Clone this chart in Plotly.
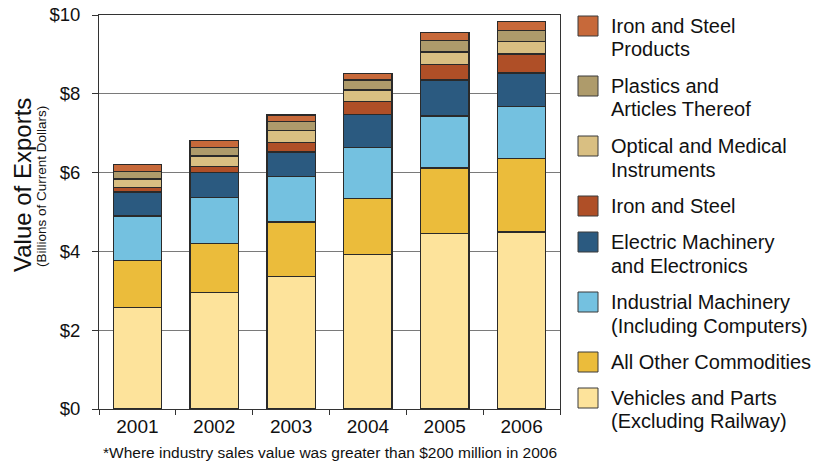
import plotly.graph_objects as go

years = ["2001", "2002", "2003", "2004", "2005", "2006"]
vehicles = [2.57, 2.96, 3.37, 3.93, 4.46, 4.49]
all_other = [1.20, 1.24, 1.38, 1.41, 1.66, 1.87]
industrial = [1.13, 1.17, 1.15, 1.29, 1.32, 1.31]
electric = [0.61, 0.64, 0.62, 0.85, 0.91, 0.86]
iron_steel = [0.12, 0.15, 0.24, 0.32, 0.39, 0.48]
optical = [0.21, 0.26, 0.30, 0.30, 0.32, 0.31]
plastics = [0.19, 0.22, 0.23, 0.25, 0.29, 0.29]
iron_products = [0.18, 0.17, 0.17, 0.17, 0.21, 0.23]

y_ticks = [0, 2, 4, 6, 8, 10]
y_tick_labels = ["$0", "$2", "$4", "$6", "$8", "$10"]

# bottom to top stacking order
series = [
    ("Vehicles and Parts<br>(Excluding Railway)", vehicles, "#FDE39B"),
    ("All Other Commodities", all_other, "#EBBC3B"),
    ("Industrial Machinery<br>(Including Computers)", industrial, "#74C1E0"),
    ("Electric Machinery<br>and Electronics", electric, "#2B5A80"),
    ("Iron and Steel", iron_steel, "#AF4F27"),
    ("Optical and Medical<br>Instruments", optical, "#D9BF82"),
    ("Plastics and<br>Articles Thereof", plastics, "#AE9B6B"),
    ("Iron and Steel<br>Products", iron_products, "#C7693A"),
]

FONT = "Liberation Sans, Arial, Helvetica, sans-serif"
W, H = 823, 466
L, R, T, B = 99, 560, 15, 409

fig = go.Figure()
for name, vals, col in series:
    fig.add_trace(go.Bar(
        x=years, y=vals, name=name.replace("<br>", " "),
        marker=dict(color=col, line=dict(color="#2a2a2a", width=1.3)),
        showlegend=False,
    ))


def px_x(px):
    return (px - L) / (R - L)


def px_y(py):
    return (B - py) / (B - T)


shapes = []
annotations = []
# custom legend (top to bottom = reverse of stacking)
top = 16
line_h = 24
for name, vals, col in reversed(series):
    lines = name.split("<br>")
    shapes.append(dict(
        type="rect", xref="paper", yref="paper",
        x0=px_x(578), x1=px_x(598), y0=px_y(top + 20), y1=px_y(top),
        fillcolor=col, line=dict(color="#3a3a3a", width=1),
    ))
    for i, ln in enumerate(lines):
        annotations.append(dict(
            xref="paper", yref="paper", x=px_x(609), y=px_y(top + 9.5 + i * line_h),
            xanchor="left", yanchor="middle", align="left", showarrow=False,
            text=ln, font=dict(family=FONT, size=20, color="#111"),
        ))
    top += 36 + line_h * (len(lines) - 1)

annotations.append(dict(
    xref="paper", yref="paper", x=px_x(23), y=px_y(185),
    xanchor="center", yanchor="middle", showarrow=False, textangle=-90,
    text="Value of Exports", font=dict(family=FONT, size=24, color="#111"),
))
annotations.append(dict(
    xref="paper", yref="paper", x=px_x(41), y=px_y(186),
    xanchor="center", yanchor="middle", showarrow=False, textangle=-90,
    text="(Billions of Current Dollars)", font=dict(family=FONT, size=13.5, color="#111"),
))
annotations.append(dict(
    xref="paper", yref="paper", x=px_x(330), y=px_y(452),
    xanchor="center", yanchor="middle", showarrow=False,
    text="*Where industry sales value was greater than $200 million in 2006",
    font=dict(family=FONT, size=15.5, color="#111"),
))

fig.update_layout(
    width=W, height=H,
    margin=dict(l=L, r=W - R, t=T, b=H - B, pad=0, autoexpand=False),
    paper_bgcolor="white", plot_bgcolor="white",
    barmode="stack", bargap=0.37,
    font=dict(family=FONT, size=18, color="#111"),
    shapes=shapes, annotations=annotations,
    xaxis=dict(
        type="category", showline=True, linecolor="#333", linewidth=1,
        mirror=True, ticks="outside", tickson="boundaries", ticklen=5,
        tickcolor="#333", showgrid=False, automargin=False,
        tickfont=dict(family=FONT, size=19, color="#111"),
    ),
    yaxis=dict(
        range=[0, 10], tickvals=y_ticks, ticktext=y_tick_labels,
        showline=True, linecolor="#333", linewidth=1, mirror=True,
        ticks="outside", ticklen=6, tickcolor="#333",
        showgrid=True, gridcolor="#7a7a7a", gridwidth=1,
        ticklabelstandoff=8, zeroline=False, automargin=False,
        tickfont=dict(family=FONT, size=18.5, color="#111"),
    ),
)

fig.write_html(
    "out.html",
    config={"displayModeBar": False},
    post_script="document.body.style.margin='0';document.body.style.overflow='hidden';",
)
